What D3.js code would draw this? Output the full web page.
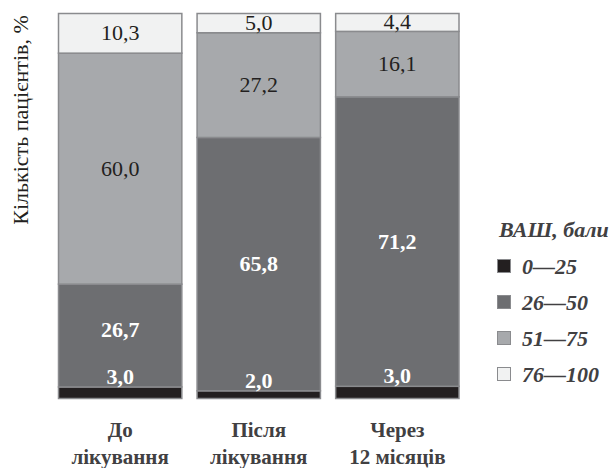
<!DOCTYPE html>
<html>
<head>
<meta charset="utf-8">
<style>
body { margin: 0; background: #ffffff; }
</style>
</head>
<body>
<div id="chart"></div>
<script src="https://d3js.org/d3.v7.min.js"></script>
<script>
// data
var categories = ["До|лікування", "Після|лікування", "Через|12 місяців"];
var groups = ["0—25", "26—50", "51—75", "76—100"];
var g0_25 = [3.0, 2.0, 3.0];
var g26_50 = [26.7, 65.8, 71.2];
var g51_75 = [60.0, 27.2, 16.1];
var g76_100 = [10.3, 5.0, 4.4];
var legendTitle = "ВАШ, бали";
var yTitle = "Кількість пацієнтів, %";

var colors = ["#231f20", "#6d6e71", "#a7a9ac", "#f1f2f2"];
var labelColors = ["#ffffff", "#ffffff", "#231f20", "#231f20"];

var width = 615, height = 468;
var serif = "Liberation Serif";

function draw() {
  d3.select("#chart").selectAll("*").remove();

  var rows = categories.map(function(c, i) {
    return { cat: c, "0—25": g0_25[i], "26—50": g26_50[i], "51—75": g51_75[i], "76—100": g76_100[i] };
  });

  var series = d3.stack().keys(groups).offset(d3.stackOffsetExpand)(rows);

  var svg = d3.select("#chart").append("svg")
    .attr("width", width)
    .attr("height", height)
    .attr("font-family", serif);

  var x = d3.scaleBand()
    .domain(categories)
    .range([58.5, 459])
    .paddingInner(0.11)
    .paddingOuter(0);

  var y = d3.scaleLinear()
    .domain([0, 1])
    .range([398.5, 13.5]);

  var color = d3.scaleOrdinal().domain(groups).range(colors);

  // bars
  var layer = svg.selectAll("g.layer")
    .data(series)
    .enter().append("g")
    .attr("class", "layer")
    .attr("fill", function(d) { return color(d.key); });

  layer.selectAll("rect")
    .data(function(d) { return d; })
    .enter().append("rect")
    .attr("x", function(d) { return x(d.data.cat); })
    .attr("y", function(d) { return y(d[1]); })
    .attr("width", x.bandwidth())
    .attr("height", function(d) { return y(d[0]) - y(d[1]); })
    .attr("stroke", "#8a8b8e")
    .attr("stroke-width", 1.5);

  // value labels
  series.forEach(function(s, si) {
    s.forEach(function(d) {
      var val = d.data[s.key];
      var cx = x(d.data.cat) + x.bandwidth() / 2;
      var ty;
      if (si === 0) {
        ty = y(d[1]) - 3;           // just above the thin black segment
      } else {
        ty = (y(d[0]) + y(d[1])) / 2 + 7;
        if (si === 1 && (y(d[0]) - y(d[1])) < 120) ty -= 6;
      }
      svg.append("text")
        .attr("x", cx)
        .attr("y", ty)
        .attr("text-anchor", "middle")
        .attr("font-family", serif)
        .style("font-family", serif)
        .attr("font-size", 22)
        .attr("font-weight", si < 2 ? "bold" : "normal")
        .attr("fill", labelColors[si])
        .text(d3.format(".1f")(val).replace(".", ","));
    });
  });

  // category labels
  categories.forEach(function(c) {
    var lines = c.split("|");
    var t = svg.append("text")
      .attr("x", x(c) + x.bandwidth() / 2)
      .attr("y", 437)
      .attr("text-anchor", "middle")
      .attr("font-family", serif)
      .style("font-family", serif)
      .attr("font-size", 21)
      .attr("font-weight", "bold")
      .attr("fill", "#414042");
    lines.forEach(function(l, i) {
      t.append("tspan")
        .attr("x", x(c) + x.bandwidth() / 2)
        .attr("dy", i === 0 ? 0 : 27)
        .text(l);
    });
  });

  // y title
  svg.append("text")
    .attr("transform", "translate(28,120) rotate(-90)")
    .attr("text-anchor", "middle")
    .attr("font-family", serif)
    .style("font-family", serif)
    .attr("font-size", 22)
    .attr("fill", "#231f20")
    .text(yTitle);

  // legend
  var legend = svg.append("g").attr("transform", "translate(497,0)");
  legend.append("text")
    .attr("x", 2)
    .attr("y", 237)
    .attr("font-family", serif)
    .style("font-family", serif)
    .attr("font-size", 22)
    .attr("font-weight", "bold")
    .attr("font-style", "italic")
    .attr("fill", "#414042")
    .text(legendTitle);

  groups.forEach(function(g, i) {
    var cy = 266 + i * 36;
    legend.append("rect")
      .attr("x", 0.5)
      .attr("y", cy - 6.5)
      .attr("width", 13)
      .attr("height", 13)
      .attr("fill", color(g))
      .attr("stroke", "#8a8b8e")
      .attr("stroke-width", 1);
    legend.append("text")
      .attr("x", 25)
      .attr("y", cy + 7.5)
      .attr("font-family", serif)
      .style("font-family", serif)
      .attr("font-size", 22)
      .attr("font-weight", "bold")
      .attr("font-style", "italic")
      .attr("fill", "#414042")
      .text(g);
  });
}

draw();
// redraw once the serif faces are surely loaded
if (document.fonts && document.fonts.load) {
  Promise.all([
    document.fonts.load("22px 'Liberation Serif'", "Кількість 0,1"),
    document.fonts.load("bold 22px 'Liberation Serif'", "Кількість 0,1"),
    document.fonts.load("italic bold 22px 'Liberation Serif'", "ВАШ 0—1")
  ]).then(draw, draw);
}
</script>
</body>
</html>
